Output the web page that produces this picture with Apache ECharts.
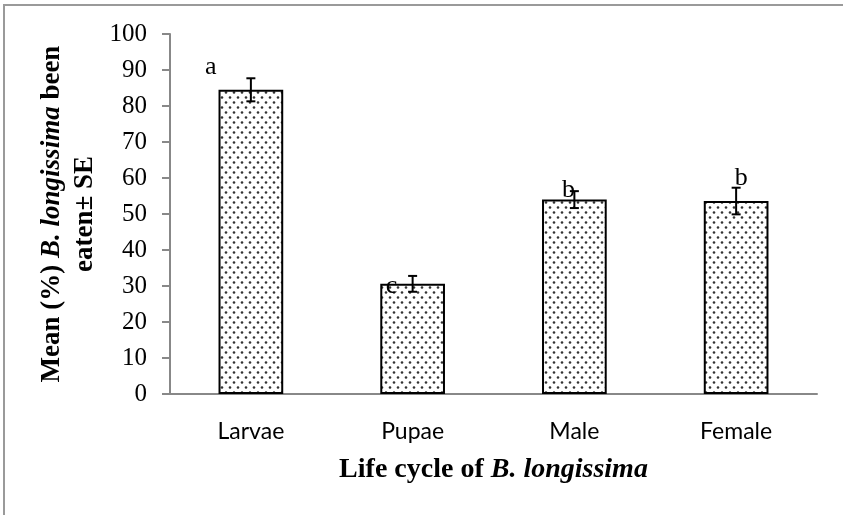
<!DOCTYPE html>
<html>
<head>
<meta charset="utf-8">
<script src="https://cdn.jsdelivr.net/npm/echarts@6/dist/echarts.min.js"></script>
<style>
  html, body { margin: 0; padding: 0; background: #fff; }
  #chart { width: 843px; height: 515px; }
</style>
</head>
<body>
<div id="chart"></div>
<script>
// life stages and mean % eaten (+/- SE)
const stages = ["Larvae", "Pupae", "Male", "Female"];
const meanEaten = [84.5, 30.6, 54.0, 53.6];
const stdErr = [3.2, 2.2, 2.35, 3.7];
// significance letters and the height they sit at
const sigLetters = ["a", "c", "b", "b"];
const sigHeight = [90.8, 30.0, 56.7, 60.0];
const yTicks = [0, 10, 20, 30, 40, 50, 60, 70, 80, 90, 100];

// dotted fill like the excel pattern
function dotPattern() {
  const c = document.createElement("canvas");
  c.width = 8;
  c.height = 10;
  const ctx = c.getContext("2d");
  ctx.fillStyle = "#fff";
  ctx.fillRect(0, 0, 8, 10);
  ctx.fillStyle = "#333";
  [[2, 2.5], [6, 7.5]].forEach(([x, y]) => {
    ctx.beginPath();
    ctx.arc(x, y, 1.3, 0, Math.PI * 2);
    ctx.fill();
  });
  return c;
}

const chart = echarts.init(document.getElementById("chart"));
const serif = "'Liberation Serif', 'Times New Roman', serif";
const letterShift = [-40, -21, -6, 5];

const option = {
  animation: false,
  grid: { left: 170, right: 26, top: 34, bottom: 121 },
  graphic: [
    {
      type: "rect",
      shape: { x: 4, y: 5, width: 860, height: 530 },
      style: { fill: "none", stroke: "#9a9a9a", lineWidth: 2 },
      silent: true,
    },
  ],
  xAxis: {
    type: "category",
    data: stages,
    axisLine: { lineStyle: { color: "#888", width: 2 } },
    axisTick: { length: 8, lineStyle: { color: "#888", width: 2 } },
    axisLabel: { color: "#000", fontFamily: "Lato", fontSize: 23, margin: 26 },
    name: "Life cycle of {i|B. longissima}",
    nameLocation: "middle",
    nameGap: 62,
    nameTextStyle: {
      color: "#000",
      fontFamily: serif,
      fontWeight: "bold",
      fontSize: 28,
      rich: {
        i: { fontFamily: serif, fontWeight: "bold", fontStyle: "italic", fontSize: 28, color: "#000" },
      },
    },
  },
  yAxis: {
    type: "value",
    min: 0,
    max: 100,
    interval: 10,
    splitLine: { show: false },
    axisLine: { show: true, lineStyle: { color: "#888", width: 2 } },
    axisTick: { show: true, length: 8, lineStyle: { color: "#888", width: 2 } },
    axisLabel: {
      color: "#000",
      fontFamily: serif,
      fontSize: 25,
      margin: 23,
      formatter: (v) => (yTicks.includes(v) ? String(v) : ""),
    },
    name: "Mean (%) {i|B. longissima} been\neaten± SE",
    nameLocation: "middle",
    nameRotate: 90,
    nameGap: 68,
    nameMoveOverlap: false,
    nameTextStyle: {
      color: "#000",
      fontFamily: serif,
      fontWeight: "bold",
      fontSize: 27,
      lineHeight: 33,
      rich: {
        i: { fontFamily: serif, fontWeight: "bold", fontStyle: "italic", fontSize: 27, lineHeight: 33, color: "#000" },
      },
    },
  },
  series: [
    {
      type: "bar",
      data: meanEaten,
      barWidth: "40%",
      itemStyle: {
        color: { image: dotPattern(), repeat: "repeat" },
        borderColor: "#000",
        borderWidth: 2,
      },
      silent: true,
    },
    {
      // error bars
      type: "custom",
      data: meanEaten.map((m, i) => [i, m - stdErr[i], m + stdErr[i]]),
      renderItem: (params, api) => {
        const lo = api.coord([api.value(0), api.value(1)]);
        const hi = api.coord([api.value(0), api.value(2)]);
        const cap = 4.5;
        const st = { stroke: "#000", lineWidth: 2 };
        return {
          type: "group",
          children: [
            { type: "line", shape: { x1: lo[0], y1: lo[1], x2: hi[0], y2: hi[1] }, style: st },
            { type: "line", shape: { x1: lo[0] - cap, y1: lo[1], x2: lo[0] + cap, y2: lo[1] }, style: st },
            { type: "line", shape: { x1: hi[0] - cap, y1: hi[1], x2: hi[0] + cap, y2: hi[1] }, style: st },
          ],
        };
      },
      z: 5,
      silent: true,
    },
    {
      // significance letters
      type: "scatter",
      symbolSize: 0,
      itemStyle: { opacity: 1, color: "transparent" },
      data: sigLetters.map((l, i) => ({
        name: l,
        value: [i, sigHeight[i]],
        label: { offset: [letterShift[i], 0] },
      })),
      label: {
        show: true,
        position: "inside",
        formatter: "{b}",
        color: "#000",
        opacity: 1,
        fontFamily: serif,
        fontSize: 26,
      },
      z: 6,
      silent: true,
    },
  ],
};

chart.setOption(option);
</script>
</body>
</html>
